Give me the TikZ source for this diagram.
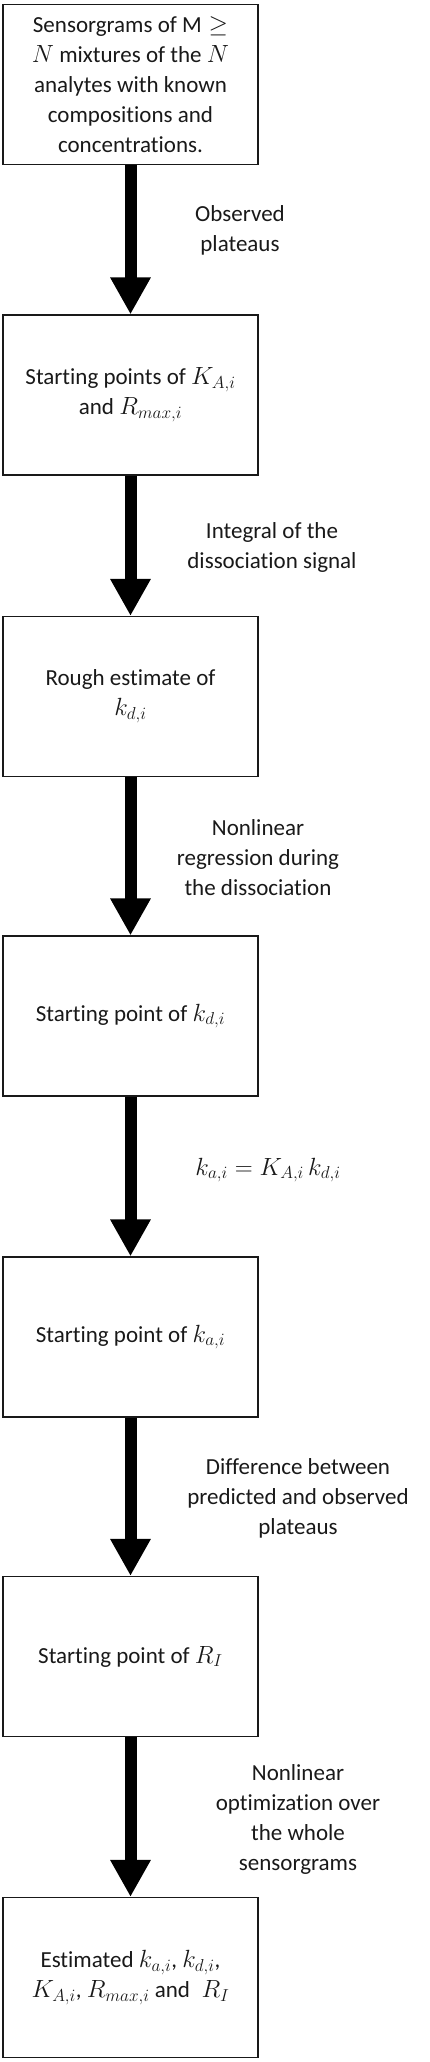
\documentclass[tikz,border=0pt]{standalone}
\usepackage{fontspec}
\setmainfont[Ligatures=NoCommon]{Carlito}
\usetikzlibrary{arrows.meta}
\tikzset{
  stepbox/.style={draw=black!90, line width=1.2pt, minimum width=255pt, minimum height=160pt, inner sep=0pt, align=center, font=\fontsize{23}{30}\selectfont, text=black!90},
  lbl/.style={align=center, inner sep=0pt, font=\fontsize{23}{30}\selectfont, text=black!90},
  bigarrow/.style={line width=12pt, -{Triangle[length=37pt 0 0, width=38pt 0 0]}, black}
}
\begin{document}
\begin{tikzpicture}[x=1pt,y=-1pt]
\useasboundingbox (0,0) rectangle (430,2062);
\node[stepbox] (b1) at (130.5,84.5) {Sensorgrams of $\mathrm{M} \geq$\\$N$ mixtures of the $N$\\analytes with known\\compositions and\\concentrations.};
\node[stepbox] (b2) at (130.5,395) {Starting points of $K_{A,i}$\\and $R_{max,i}$};
\node[stepbox] (b3) at (130.5,696.5) {Rough estimate of\\$k_{d,i}$};
\node[stepbox] (b4) at (130.5,1016) {Starting point of $k_{d,i}$};
\node[stepbox] (b5) at (130.5,1337) {Starting point of $k_{a,i}$};
\node[stepbox] (b6) at (130.5,1656.5) {Starting point of $R_{I}$};
\node[stepbox] (b7) at (130.5,1977.5) {Estimated $k_{a,i}$, $k_{d,i}$,\\$K_{A,i}$, $R_{max,i}$ and\enspace$R_{I}$};
\draw[bigarrow] (b1.south) -- (b2.north);
\draw[bigarrow] (b2.south) -- (b3.north);
\draw[bigarrow] (b3.south) -- (b4.north);
\draw[bigarrow] (b4.south) -- (b5.north);
\draw[bigarrow] (b5.south) -- (b6.north);
\draw[bigarrow] (b6.south) -- (b7.north);
\node[lbl] (l1) at (240,230) {Observed\\plateaus};
\node[lbl] (l2) at (272,547) {Integral of the\\dissociation signal};
\node[lbl] (l3) at (258,858) {Nonlinear\\regression during\\the dissociation};
\node[lbl] (l4) at (268,1170) {$k_{a,i} = K_{A,i}\,k_{d,i}$};
\node[lbl] (l5) at (298,1498) {Difference between\\predicted and observed\\plateaus};
\node[lbl] (l6) at (298,1819) {Nonlinear\\optimization over\\the whole\\sensorgrams};
\end{tikzpicture}
\end{document}
